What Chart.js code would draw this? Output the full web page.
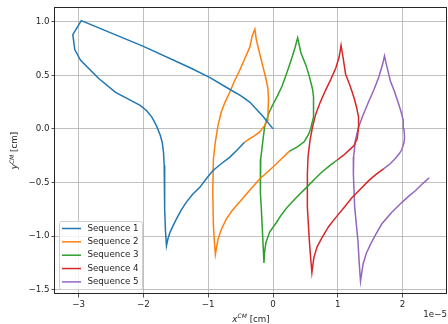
<!DOCTYPE html>
<html>
<head>
<meta charset="utf-8">
<title>Sequences</title>
<script src="https://cdn.jsdelivr.net/npm/chart.js@4.4.1/dist/chart.umd.min.js"></script>
<style>
    html, body { margin: 0; padding: 0; background: #fff; }
    #chart { display: block; }
</style>
</head>
<body>
<canvas id="chart" width="448" height="324"></canvas>
<script>
// Dados (x em unidades de 1e-5 cm)
const seriesNames = ['Sequence 1', 'Sequence 2', 'Sequence 3', 'Sequence 4', 'Sequence 5'];
const seriesColors = ['#1f77b4', '#ff7f0e', '#2ca02c', '#d62728', '#9467bd'];

const seq1X = [0, -0.16, -0.36, -0.5, -0.67, -0.98, -1.28, -2.0, -2.96, -3.09, -3.06, -2.97, -2.69, -2.43, -2.05, -1.95, -1.87, -1.8, -1.74, -1.71, -1.69, -1.68, -1.675, -1.67, -1.66, -1.645,
               -1.62, -1.59, -1.54, -1.49, -1.42, -1.34, -1.24, -1.13, -1.03, -0.93, -0.8, -0.67, -0.55, -0.44];
const seq1Y = [0, 0.12, 0.25, 0.31, 0.37, 0.48, 0.57, 0.77, 1.01, 0.88, 0.74, 0.64, 0.47, 0.34, 0.22, 0.17, 0.11, 0.03, -0.06, -0.125, -0.22, -0.34, -0.55, -0.75, -0.95, -1.09,
               -1.02, -0.965, -0.9, -0.84, -0.76, -0.685, -0.61, -0.545, -0.465, -0.39, -0.325, -0.265, -0.195, -0.125];

const seq2X = [-0.44, -0.37, -0.3, -0.21, -0.13, -0.09, -0.08, -0.07, -0.08, -0.11, -0.16, -0.21, -0.26, -0.28,
               -0.32, -0.36, -0.44, -0.52, -0.6, -0.67, -0.74, -0.8, -0.85, -0.89, -0.92, -0.93, -0.92, -0.905, -0.89,
               -0.87, -0.85, -0.8, -0.72, -0.63, -0.52, -0.37, -0.21, 0, 0.12, 0.25];
const seq2Y = [-0.125, -0.095, -0.07, -0.03, 0.03, 0.08, 0.12, 0.28, 0.38, 0.47, 0.59, 0.71, 0.84, 0.93,
               0.87, 0.76, 0.65, 0.54, 0.44, 0.34, 0.25, 0.155, 0.03, -0.12, -0.28, -0.59, -0.9, -1.05, -1.17,
               -1.1, -1.03, -0.94, -0.84, -0.76, -0.685, -0.58, -0.47, -0.355, -0.285, -0.21];

const seq3X = [0.25, 0.37, 0.48, 0.55, 0.58, 0.62, 0.63, 0.62, 0.61, 0.56, 0.51, 0.43, 0.38,
               0.34, 0.3, 0.25, 0.2, 0.14, 0.07, 0, -0.06, -0.1, -0.13, -0.16, -0.19, -0.2, -0.19, -0.18, -0.16, -0.14,
               -0.13, -0.11, -0.05, 0.05, 0.13, 0.22, 0.36, 0.51, 0.64, 0.76, 0.88, 0.99];
const seq3Y = [-0.21, -0.17, -0.12, -0.05, 0, 0.1, 0.19, 0.3, 0.37, 0.49, 0.59, 0.71, 0.85,
               0.76, 0.68, 0.59, 0.5, 0.4, 0.31, 0.23, 0.155, 0.08, 0.02, -0.125, -0.28, -0.44, -0.6, -0.75, -1.0, -1.25,
               -1.15, -1.06, -0.96, -0.875, -0.8, -0.73, -0.64, -0.55, -0.47, -0.4, -0.34, -0.29];

const seq4X = [0.99, 1.08, 1.17, 1.25, 1.3, 1.32, 1.32, 1.29, 1.25, 1.19, 1.12, 1.08, 1.05,
               1.02, 0.97, 0.89, 0.81, 0.73, 0.66, 0.61, 0.57, 0.54, 0.53, 0.53, 0.56, 0.58, 0.6,
               0.63, 0.68, 0.76, 0.86, 0.97, 1.1, 1.22, 1.35, 1.48, 1.6, 1.71];
const seq4Y = [-0.29, -0.25, -0.2, -0.155, -0.09, 0.02, 0.11, 0.2, 0.29, 0.4, 0.51, 0.67, 0.78,
               0.67, 0.57, 0.46, 0.36, 0.25, 0.14, 0.02, -0.11, -0.26, -0.42, -0.73, -1.04, -1.2, -1.34,
               -1.2, -1.1, -1.01, -0.91, -0.825, -0.73, -0.64, -0.56, -0.48, -0.42, -0.37];

const seq5X = [1.71, 1.8, 1.88, 1.95, 1.99, 2.02, 2.03, 2.02, 2.01, 1.98, 1.94, 1.88, 1.81, 1.75, 1.72,
               1.69, 1.63, 1.56, 1.48, 1.39, 1.32, 1.27, 1.245, 1.24, 1.26, 1.31, 1.33, 1.35,
               1.39, 1.44, 1.51, 1.59, 1.68, 1.83, 1.99, 2.1, 2.2, 2.31, 2.41];
const seq5Y = [-0.37, -0.33, -0.28, -0.23, -0.19, -0.13, -0.08, 0, 0.08, 0.15, 0.23, 0.34, 0.45, 0.6, 0.68,
               0.6, 0.48, 0.37, 0.26, 0.13, 0.015, -0.11, -0.26, -0.42, -0.73, -1.04, -1.25, -1.42,
               -1.26, -1.16, -1.07, -0.98, -0.885, -0.78, -0.685, -0.625, -0.575, -0.51, -0.455];

const seriesX = [seq1X, seq2X, seq3X, seq4X, seq5X];
const seriesY = [seq1Y, seq2Y, seq3Y, seq4Y, seq5Y];

// Marcas dos eixos
const xTicks = [-3, -2, -1, 0, 1, 2];
const yTicks = [-1.5, -1.0, -0.5, 0.0, 0.5, 1.0];

const FONT = '"DejaVu Sans", sans-serif';
const TEXT = '#262626';

function minus(s) {
    return s.replace('-', '\u2212');
}

// Legenda desenhada dentro da área do gráfico (canto inferior esquerdo)
const legendBox = {
    id: 'legendBox',
    afterDraw(chart) {
        const ctx = chart.ctx;
        const x0 = 59.5, y0 = 221.5, w = 83, h = 68;
        ctx.save();
        ctx.fillStyle = 'rgba(255,255,255,0.8)';
        ctx.strokeStyle = '#d0d0d0';
        ctx.lineWidth = 1;
        ctx.beginPath();
        ctx.roundRect(x0, y0, w, h, 2);
        ctx.fill();
        ctx.stroke();
        ctx.font = '8.7px ' + FONT;
        ctx.textBaseline = 'middle';
        ctx.fillStyle = TEXT;
        chart.data.datasets.forEach((ds, i) => {
            const y = 228.5 + i * 13.35;
            ctx.strokeStyle = ds.borderColor;
            ctx.lineWidth = 1.5;
            ctx.beginPath();
            ctx.moveTo(62, y);
            ctx.lineTo(81, y);
            ctx.stroke();
            ctx.fillText(ds.label, 87.5, y);
        });
        ctx.restore();
    }
};

// Moldura e títulos dos eixos com sobrescrito
const axisTitles = {
    id: 'axisTitles',
    afterDraw(chart) {
        const ctx = chart.ctx;
        const a = chart.chartArea;
        ctx.save();
        ctx.strokeStyle = '#262626';
        ctx.lineWidth = 1;
        ctx.strokeRect(Math.round(a.left) - 0.5, Math.round(a.top) + 0.5, Math.round(a.right - a.left), Math.round(a.bottom - a.top) - 1);

        function label(main, sup, rest, cx, cy, rotate) {
            ctx.save();
            ctx.translate(cx, cy);
            if (rotate) ctx.rotate(-Math.PI / 2);
            ctx.fillStyle = TEXT;
            ctx.textBaseline = 'alphabetic';
            const fMain = 'italic 8.7px ' + FONT;
            const fSup = 'italic 6px ' + FONT;
            const fRest = '8.7px ' + FONT;
            ctx.font = fMain; const w1 = ctx.measureText(main).width;
            ctx.font = fSup; const w2 = ctx.measureText(sup).width;
            ctx.font = fRest; const w3 = ctx.measureText(rest).width;
            let x = -(w1 + w2 + w3) / 2;
            const base = 3;
            ctx.font = fMain; ctx.fillText(main, x, base); x += w1;
            ctx.font = fSup; ctx.fillText(sup, x, base - 3.5); x += w2;
            ctx.font = fRest; ctx.fillText(rest, x, base);
            ctx.restore();
        }
        label('x', 'CM', ' [cm]', (a.left + a.right) / 2, 318.5, false);
        label('y', 'CM', ' [cm]', 14, (a.top + a.bottom) / 2, true);

        ctx.font = '8.7px ' + FONT;
        ctx.fillStyle = TEXT;
        ctx.textAlign = 'right';
        ctx.textBaseline = 'middle';
        ctx.fillText('1e\u22125', 447, 315);
        ctx.restore();
    }
};

document.addEventListener('DOMContentLoaded', function() {
    const datasets = seriesNames.map((name, i) => ({
        label: name,
        data: seriesX[i].map((x, j) => ({ x: x, y: seriesY[i][j] })),
        borderColor: seriesColors[i],
        backgroundColor: seriesColors[i],
        borderWidth: 1.5,
        showLine: true,
        pointRadius: 0,
        tension: 0,
        fill: false
    }));

    const ctx = document.getElementById('chart').getContext('2d');
    new Chart(ctx, {
        type: 'scatter',
        data: { datasets: datasets },
        options: {
            responsive: false,
            animation: false,
            devicePixelRatio: 1,
            layout: { padding: { left: 0, top: 6, right: 1, bottom: 0 } },
            plugins: {
                legend: { display: false },
                tooltip: { enabled: false }
            },
            scales: {
                x: {
                    type: 'linear',
                    min: -3.365,
                    max: 2.685,
                    afterBuildTicks: s => { s.ticks = xTicks.map(v => ({ value: v })); },
                    afterFit: s => { s.height = 30; },
                    grid: { color: '#b0b0b0', lineWidth: 0.8, tickLength: 3.5, tickColor: '#262626' },
                    border: { display: false },
                    ticks: {
                        color: TEXT,
                        font: { family: FONT, size: 8.7 },
                        padding: 2,
                        maxRotation: 0,
                        callback: v => minus(String(v))
                    }
                },
                y: {
                    type: 'linear',
                    min: -1.54,
                    max: 1.135,
                    afterBuildTicks: s => { s.ticks = yTicks.map(v => ({ value: v })); },
                    afterFit: s => { s.width = 55; },
                    grid: { color: '#b0b0b0', lineWidth: 0.8, tickLength: 3.5, tickColor: '#262626' },
                    border: { display: false },
                    ticks: {
                        color: TEXT,
                        font: { family: FONT, size: 8.7 },
                        padding: 2,
                        callback: v => minus(v.toFixed(1))
                    }
                }
            }
        },
        plugins: [legendBox, axisTitles]
    });
});
</script>
</body>
</html>
